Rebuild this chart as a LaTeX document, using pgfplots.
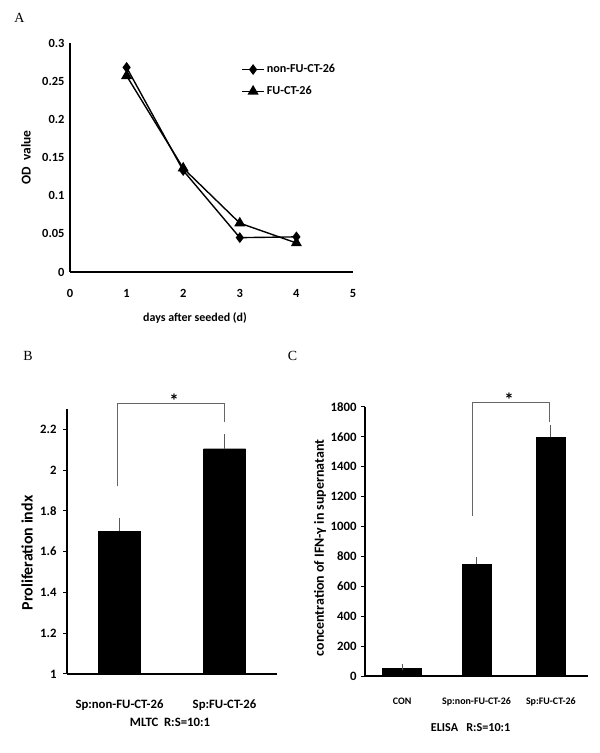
\documentclass[border=0pt]{standalone}
\usepackage{pgfplots}
\pgfplotsset{compat=1.18}
\usepackage{fontspec}
\setmainfont{Carlito}
\newfontfamily\seriffont{Liberation Serif}
\newcommand{\fs}[1]{\fontsize{#1}{#1}\selectfont\bfseries}
\begin{document}
\begin{tikzpicture}
\path (0bp,0bp) rectangle (600bp,753bp);
\node[font=\seriffont\fontsize{14}{14}\selectfont] at (19.5bp,735.5bp) {A};
\node[font=\seriffont\fontsize{14}{14}\selectfont] at (28bp,397bp) {B};
\node[font=\seriffont\fontsize{14}{14}\selectfont] at (292.5bp,397bp) {C};

\pgfplotsset{
  common/.style={
    scale only axis, clip=false,
    axis x line*=bottom, axis y line*=left,
    axis line style={line width=1.3bp, black, -},
    /pgf/number format/assume math mode=true,
    /pgf/number format/1000 sep={},
    xtick style={draw=none},
  },
  errs/.style={error bars/.cd, y dir=plus, y explicit,
    error bar style={line width=1.2bp, black!65},
    error mark=-, error mark options={line width=1.2bp, black!65, mark size=3bp}},
}

% ---------- Panel A ----------
\begin{axis}[common,
  at={(70bp,481bp)}, anchor=south west, width=283bp, height=229bp,
  xmin=0, xmax=5, ymin=0, ymax=0.3,
  xtick={0,1,2,3,4,5}, ytick={0,0.05,0.1,0.15,0.2,0.25,0.3},
  ytick style={draw=none},
  yticklabel style={/pgf/number format/fixed, /pgf/number format/precision=2, font=\fs{12.5}, xshift=-2bp},
  xticklabel style={font=\fs{12.5}, yshift=-14bp},
  xlabel={days after seeded (d)},
  xlabel style={font=\fs{12}, at={(axis description cs:0,0)}, anchor=center, xshift=125bp, yshift=-46bp},
  ylabel={OD\ \ value},
  ylabel style={font=\fs{13.5}, at={(axis description cs:-0.1555,0.5)}, anchor=center},
  legend style={draw=none, fill=none, at={(0.605,0.915)}, anchor=north west, font=\fs{12.2}, row sep=8bp, inner sep=0pt, cells={anchor=west}},
  legend image code/.code={\draw[mark repeat=2, mark phase=2, #1] plot coordinates {(0bp,0bp) (11bp,0bp) (22bp,0bp)};},
]
\addplot[black, line width=1.4bp, mark=diamond*, mark size=4.3bp] coordinates {(1,0.268) (2,0.133) (3,0.045) (4,0.046)};
\addlegendentry{non-FU-CT-26}
\addplot[black, line width=1.4bp, mark=triangle*, mark size=5bp] coordinates {(1,0.257) (2,0.136) (3,0.064) (4,0.038)};
\addlegendentry{FU-CT-26}
\end{axis}

% ---------- Panel B ----------
\begin{axis}[common,
  at={(67bp,79bp)}, anchor=south west, width=210bp, height=265bp,
  xmin=0.5, xmax=2.5, ymin=1, ymax=2.3,
  xtick={1,2}, xticklabels={Sp:non-FU-CT-26, Sp:FU-CT-26},
  ytick={1,1.2,1.4,1.6,1.8,2,2.2},
  ytick style={draw=black, line width=1bp}, tick align=outside, major tick length=4bp,
  yticklabel style={/pgf/number format/fixed, font=\fs{12.8}, xshift=-3bp},
  xticklabel style={font=\fs{12.8}, yshift=-18bp},
  xlabel={MLTC\ \ R:S=10:1},
  xlabel style={font=\fs{12.8}, at={(axis description cs:0.5,0)}, anchor=center, xshift=-2bp, yshift=-48bp},
  ylabel={Proliferation indx},
  ylabel style={font=\fs{16}, at={(axis description cs:-0.1905,0.457)}, anchor=center},
]
\addplot[ybar, bar width=42bp, fill=black, draw=black, errs] coordinates {(1,1.70) +- (0,0.05) (2,2.105) +- (0,0.057)};
\draw[black!60, line width=0.9bp] (axis cs:0.976,1.92) -- (axis cs:0.976,2.327) -- (axis cs:1.995,2.327) -- (axis cs:1.995,2.234);
\node[font=\fs{19}, anchor=base] at (axis cs:1.52,2.305) {*};
\end{axis}

% ---------- Panel C ----------
\begin{axis}[common,
  at={(365bp,77bp)}, anchor=south west, width=223bp, height=269bp,
  xmin=0.5, xmax=3.5, ymin=0, ymax=1800,
  xtick={1,2,3}, xticklabels={CON, Sp:non-FU-CT-26, Sp:FU-CT-26},
  ytick={0,200,400,600,800,1000,1200,1400,1600,1800},
  ytick style={draw=black, line width=1bp}, tick align=outside, major tick length=4bp,
  yticklabel style={font=\fs{12.8}, xshift=-1bp},
  xticklabel style={font=\fs{10}, yshift=-14bp},
  xlabel={ELISA\ \ \ R:S=10:1},
  xlabel style={font=\fs{12.2}, at={(axis description cs:0.5,0)}, anchor=center, xshift=-6bp, yshift=-52bp},
  ylabel={concentration of IFN-γ in supernatant},
  ylabel style={font=\fs{14}, at={(axis description cs:-0.2018,0.476)}, anchor=center},
]
\addplot[ybar, bar width=39bp, fill=black, draw=black, errs] coordinates {(1,52) +- (0,10)};
\addplot[ybar, bar width=29bp, fill=black, draw=black, errs] coordinates {(2,748) +- (0,27) (3,1597) +- (0,63)};
\draw[black!60, line width=0.9bp] (axis cs:1.94,1073) -- (axis cs:1.94,1833) -- (axis cs:2.975,1833) -- (axis cs:2.975,1702);
\node[font=\fs{19}, anchor=base] at (axis cs:2.44,1800) {*};
\end{axis}
\end{tikzpicture}
\end{document}
